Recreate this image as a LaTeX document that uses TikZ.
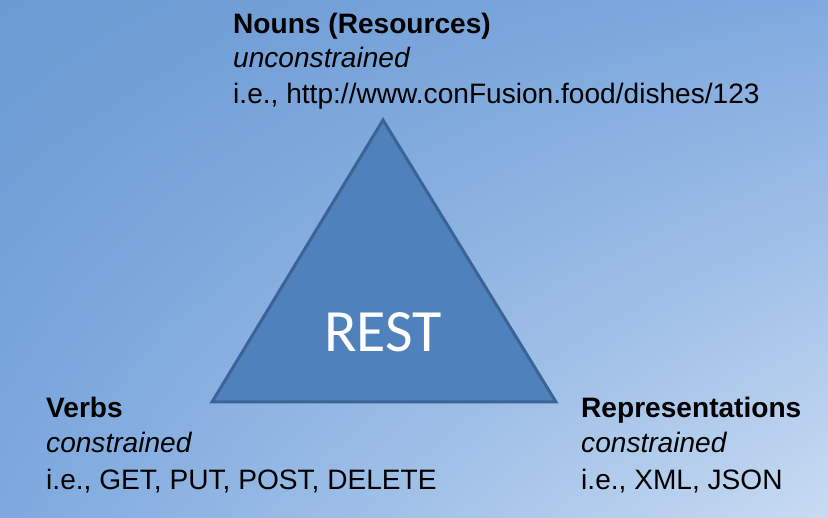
\documentclass[tikz,border=0pt]{standalone}
\usepackage{fontspec}
\usetikzlibrary{shadings}
\setmainfont{Liberation Sans}
\newfontfamily\calibrifont{Carlito}
\definecolor{bgTL}{HTML}{6A9AD2}
\definecolor{bgTR}{HTML}{80AADF}
\definecolor{bgBL}{HTML}{7EA9DF}
\definecolor{bgBR}{HTML}{C8DBF2}
\definecolor{triFill}{HTML}{4F81BD}
\definecolor{triLine}{HTML}{3A6496}
\tikzset{
  txt/.style={anchor=base west, inner sep=0pt, font=\fontsize{28.1}{34}\selectfont, text=black},
  head/.style={txt, font=\fontsize{28.1}{34}\selectfont\bfseries},
  sub/.style={txt, font=\fontsize{28.1}{34}\selectfont\itshape},
}
\begin{document}
\begin{tikzpicture}[x=1pt,y=-1pt]
\useasboundingbox (0,0) rectangle (828,518);
\shade[upper left=bgTL, upper right=bgTR, lower left=bgBL, lower right=bgBR] (0,0) rectangle (828,518);
\coordinate (top) at (383,120);
\coordinate (bl) at (212,402);
\coordinate (br) at (556,402);
\filldraw[fill=triFill, draw=triLine, line width=3pt] (top) -- (br) -- (bl) -- cycle;
\node[anchor=base, inner sep=0pt, text=white, font=\calibrifont\fontsize{60}{62}\selectfont] (rest) at (383,352) {REST};
% top block
\node[head] (n1) at (233,34) {Nouns (Resources)};
\node[sub] (n2) at (233,68) {unconstrained};
\node[txt] (n3) at (233,104) {i.e., http://www.conFusion.food/dishes/123};
% left block
\node[head] (v1) at (46,418) {Verbs};
\node[sub] (v2) at (46,453) {constrained};
\node[txt] (v3) at (46,490) {i.e., GET, PUT, POST, DELETE};
% right block
\node[head] (r1) at (581,418) {Representations};
\node[sub] (r2) at (581,453) {constrained};
\node[txt] (r3) at (581,490) {i.e., XML, JSON};
\end{tikzpicture}
\end{document}
